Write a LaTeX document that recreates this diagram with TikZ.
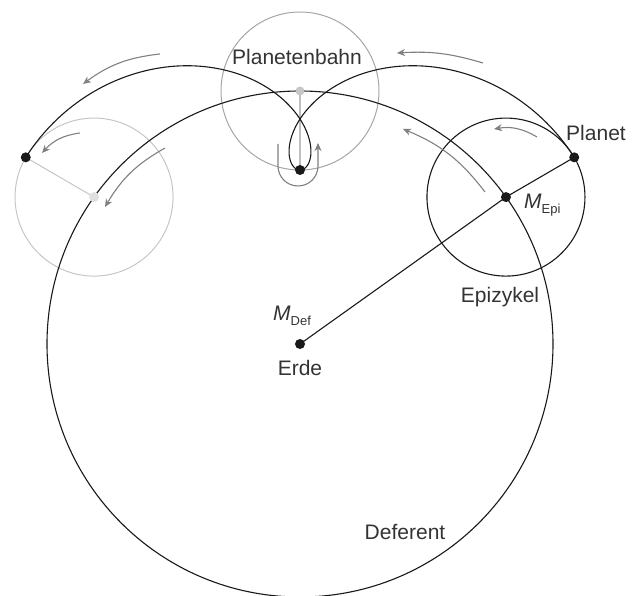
\documentclass[tikz,border=0pt]{standalone}
\usepackage{fontspec}
\setmainfont{Liberation Sans}
\usepackage{tikz}
\usetikzlibrary{arrows.meta,calc}

\tikzset{
  bahn/.style={line width=1.1pt, black!90},
  hilfskreis/.style={line width=1pt, gray!70},
  bewegung/.style={line width=1.1pt, gray, -{Stealth[length=8pt,width=7pt,inset=2.5pt]}},
  punkt/.style={circle, fill=black!90, inner sep=0pt, minimum size=10pt},
  hilfspunkt/.style={circle, fill=gray!45, inner sep=0pt, minimum size=9pt},
  beschriftung/.style={text=black!80, inner sep=0pt},
}
\newcommand{\mpunkt}[1]{\textit{M}\raisebox{-5pt}{\fontsize{13}{15}\selectfont #1}}

\begin{document}
\begin{tikzpicture}[x=1pt, y=1pt, font=\fontsize{21}{25}\selectfont]
\useasboundingbox (0,0) rectangle (635,595);
% Erde, Epizykelmittelpunkte und Planet (Deferent R=253, Epizykel r=79).
\coordinate (erde)     at (300,251);
\coordinate (mEpi)     at ($(erde)+(35.5:253)$);
\coordinate (planet)   at ($(mEpi)+(30.2:79)$);
\coordinate (mOben)    at ($(erde)+(90:253)$);
\coordinate (planetOben) at ($(mOben)+(270:79)$);
\coordinate (mLinks)   at ($(erde)+(144.5:253)$);
\coordinate (planetLinks) at ($(mLinks)+(149.8:79)$);

% Hilfsepizykel (grau).
\draw[hilfskreis] (mOben) circle[radius=79];
\draw[hilfskreis, gray!45] (mLinks) circle[radius=79];
\draw[gray!50, line width=2pt] (mOben) -- (planetOben);
\draw[gray!45, line width=1pt] (planetLinks) -- (mLinks);

% Deferent und Epizykel.
\draw[bahn] (erde) circle[radius=253];
\draw[bahn] (mEpi) circle[radius=79];
\draw[bahn] (erde) -- (mEpi) -- (planet);

% Planetenbahn mit Schleife.
\draw[bahn] plot[domain=-54.5:54.5, samples=260, variable=\t]
  ({300+253*cos(90+\t)+79*cos(270+4.4*\t)}, {251+253*sin(90+\t)+79*sin(270+4.4*\t)});

% Bewegungspfeile.
\coordinate (pA) at (160,541); \coordinate (pA') at (83,511);
\coordinate (pB) at (483,532); \coordinate (pB') at (397,542);
\coordinate (pC) at (537,458); \coordinate (pC') at (494,466);
\coordinate (pD) at (485,403); \coordinate (pD') at (403,466);
\coordinate (pE) at (80,462);  \coordinate (pE') at (42,442);
\coordinate (pF) at (165,447); \coordinate (pF') at (105,388);
\coordinate (pG) at (278,451); \coordinate (pG') at (318,452);
\draw[bewegung] (pA) to[bend right=15] (pA');
\draw[bewegung] (pB) to[bend right=10] (pB');
\draw[bewegung] (pC) to[bend right=20] (pC');
\draw[bewegung] (pD) to[bend right=15] (pD');
\draw[bewegung] (pE) to[bend right=20] (pE');
\draw[bewegung] (pF) to[bend right=15] (pF');
\draw[bewegung] (pG) -- ++(0,-22) arc[start angle=180, end angle=360, radius=20] -- (pG');

% Punkte.
\node[hilfspunkt] (dotMOben) at (mOben) {};
\node[hilfspunkt, fill=gray!25, minimum size=10pt] (dotMLinks) at (mLinks) {};
\foreach \p in {erde,mEpi,planet,planetOben,planetLinks}{
    \node[punkt] (dot-\p) at (\p) {};
}

% Beschriftungen.
\node[beschriftung] (lbahn) at (297,538) {Planetenbahn};
\node[beschriftung] (lplanet) at (596,462) {Planet};
\node[beschriftung, anchor=base west] (lmepi) at (524,386) {\mpunkt{Epi}};
\node[beschriftung, anchor=base west] (lmdef) at (273,274) {\mpunkt{Def}};
\node[beschriftung] (lerde) at (300,227) {Erde};
\node[beschriftung] (lepi) at (500,298) {Epizykel};
\node[beschriftung] (ldef) at (405,63) {Deferent};
\end{tikzpicture}
\end{document}
